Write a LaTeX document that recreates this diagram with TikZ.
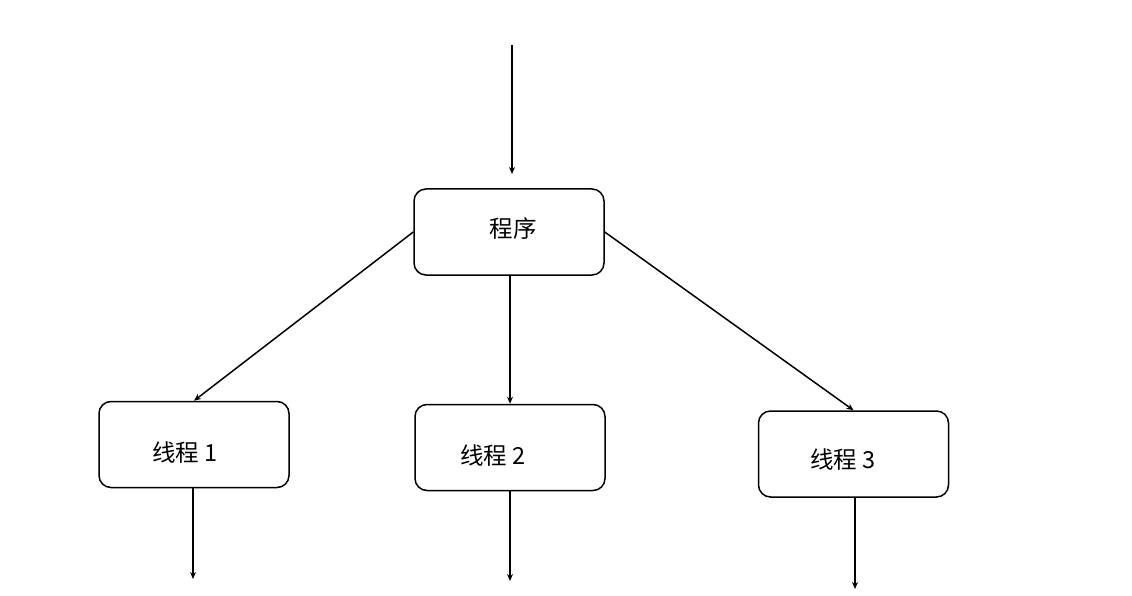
\documentclass[tikz,border=0pt]{standalone}
\usepackage{fontspec}
\newfontfamily\cjk{Noto Sans CJK SC}
\usetikzlibrary{arrows.meta}
\begin{document}
\begin{tikzpicture}[x=1pt,y=-1pt,
  box/.style={draw, line width=1.5pt, rounded corners=12pt, minimum width=190pt, minimum height=86pt, inner sep=0pt},
  lbl/.style={font=\cjk\fontsize{23.5pt}{26pt}\selectfont, inner sep=0pt},
  arr/.style={line width=1.5pt, -{Stealth[length=7pt,width=6pt]}}]
\useasboundingbox (0,0) rectangle (1132,596);
\fill[white] (0,0) rectangle (1132,596);

% main program box and the three thread boxes
\node[box] (prog) at (509,232) {};
\node[box] (t1) at (194,444.5) {};
\node[box] (t2) at (510,447.5) {};
\node[box] (t3) at (853.5,454) {};

\node[lbl] (progtext) at (513,229) {程序};
\node[lbl] (t1text) at (185,453) {线程 1};
\node[lbl] (t2text) at (493,456) {线程 2};
\node[lbl] (t3text) at (843,460) {线程 3};

% incoming and outgoing flow
\coordinate (in) at (512,45);
\coordinate (inend) at (512,174);
\coordinate (o1) at (193,579);
\coordinate (o2) at (510,581);
\coordinate (o3) at (855,589);

\draw[arr] (in) -- (inend);
\draw[arr] (prog.west) -- (t1.north);
\draw[arr] (t2.north |- prog.south) -- (t2.north);
\draw[arr] (prog.east) -- (t3.north);
\draw[arr] (t1.south -| o1) -- (o1);
\draw[arr] (t2.south) -- (o2);
\draw[arr] (t3.south -| o3) -- (o3);
\end{tikzpicture}
\end{document}
